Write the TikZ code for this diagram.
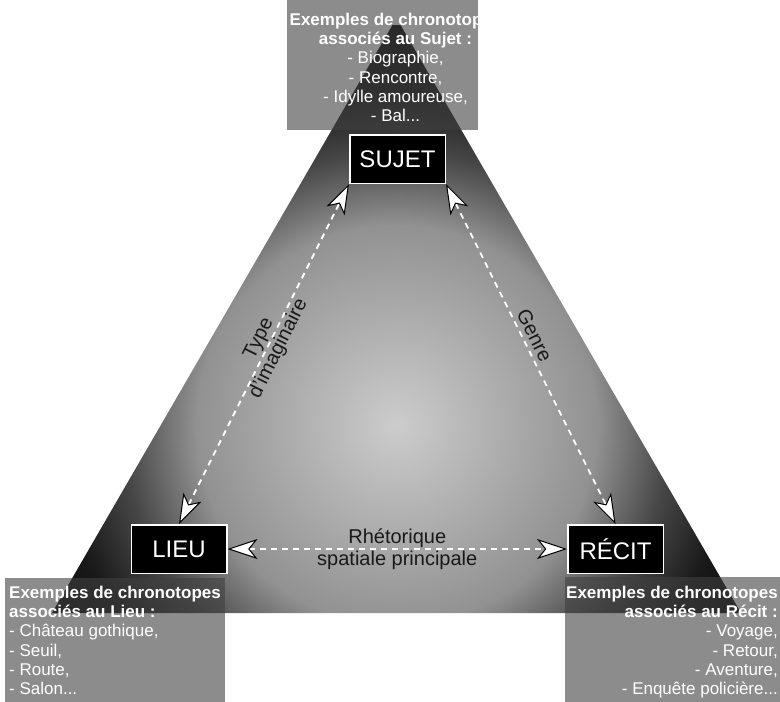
\documentclass[tikz,border=0pt]{standalone}
\usepackage{fontspec}
\setmainfont{Liberation Sans}
\usetikzlibrary{arrows.meta}
\pgfdeclareradialshading{trishade}{\pgfpoint{0bp}{0bp}}{rgb(0bp)=(0.80,0.80,0.80); rgb(12.5bp)=(0.57,0.57,0.57); rgb(17bp)=(0.28,0.28,0.28); rgb(21bp)=(0.10,0.10,0.10); rgb(25bp)=(0.04,0.04,0.04); rgb(50bp)=(0.04,0.04,0.04)}
\begin{document}
\begin{tikzpicture}[x=1pt,y=-1pt,
  boxfill/.style={fill=black!75,fill opacity=0.6},
  boxtxt/.style={text=white,inner sep=0pt,font=\fontsize{17}{19.3}\selectfont},
  kbox/.style={draw=white,fill=black,line width=1.5pt,minimum width=95.5pt,minimum height=48.5pt,inner sep=0pt,text=white,font=\fontsize{24}{28}\selectfont},
  conn/.style={draw=white,line width=1.8pt,dash pattern=on 6pt off 5pt,{Stealth[length=30pt,width=20pt,inset=8pt,color=black,fill=white,line width=1pt]}-{Stealth[length=30pt,width=20pt,inset=8pt,color=black,fill=white,line width=1pt]}},
  lbl/.style={text=black!90,inner sep=1pt,font=\fontsize{20}{22}\selectfont}]
\useasboundingbox (0,0) rectangle (780,702);
\fill[white] (0,0) rectangle (780,702);
\coordinate (apex) at (396.5,18);
\coordinate (bl) at (52,613);
\coordinate (br) at (741,613);
\begin{scope}
\clip (apex) -- (bl) -- (br) -- cycle;
\shade[shading=trishade] (396.5,425) circle (400);
\end{scope}
% grey example boxes
\fill[boxfill] (287,0) rectangle (478,130);
\fill[boxfill] (5,578) rectangle (225,702);
\fill[boxfill] (565,577) rectangle (780,702);
\node[boxtxt,anchor=north,align=center] (sujettxt) at (395.5,12.6)
  {\textbf{Exemples de chronotopes}\\\textbf{associés au Sujet :}\\- Biographie,\\- Rencontre,\\- Idylle amoureuse,\\- Bal...};
\node[boxtxt,anchor=north west,align=left] (lieutxt) at (9,585.6)
  {\textbf{Exemples de chronotopes}\\\textbf{associés au Lieu :}\\- Château gothique,\\- Seuil,\\- Route,\\- Salon...};
\node[boxtxt,anchor=north east,align=right] (recittxt) at (778,585.6)
  {\textbf{Exemples de chronotopes}\\\textbf{associés au Récit :}\\- Voyage,\\- Retour,\\- Aventure,\\- Enquête policière...};
% main nodes
\node[kbox] (sujet) at (397.5,159) {SUJET};
\node[kbox] (lieu) at (179,549) {LIEU};
\node[kbox] (recit) at (615.5,549) {RÉCIT};
% connectors
\draw[conn] (lieu.north) -- node[lbl,sloped,pos=0.53,align=center] {Type\\d'imaginaire} (sujet.south west);
\draw[conn] (sujet.south east) -- node[lbl,sloped,pos=0.46,above=3pt] {Genre} (recit.north);
\draw[conn] (lieu) -- node[lbl,align=center] {Rhétorique\\spatiale principale} (recit);
\end{tikzpicture}
\end{document}
